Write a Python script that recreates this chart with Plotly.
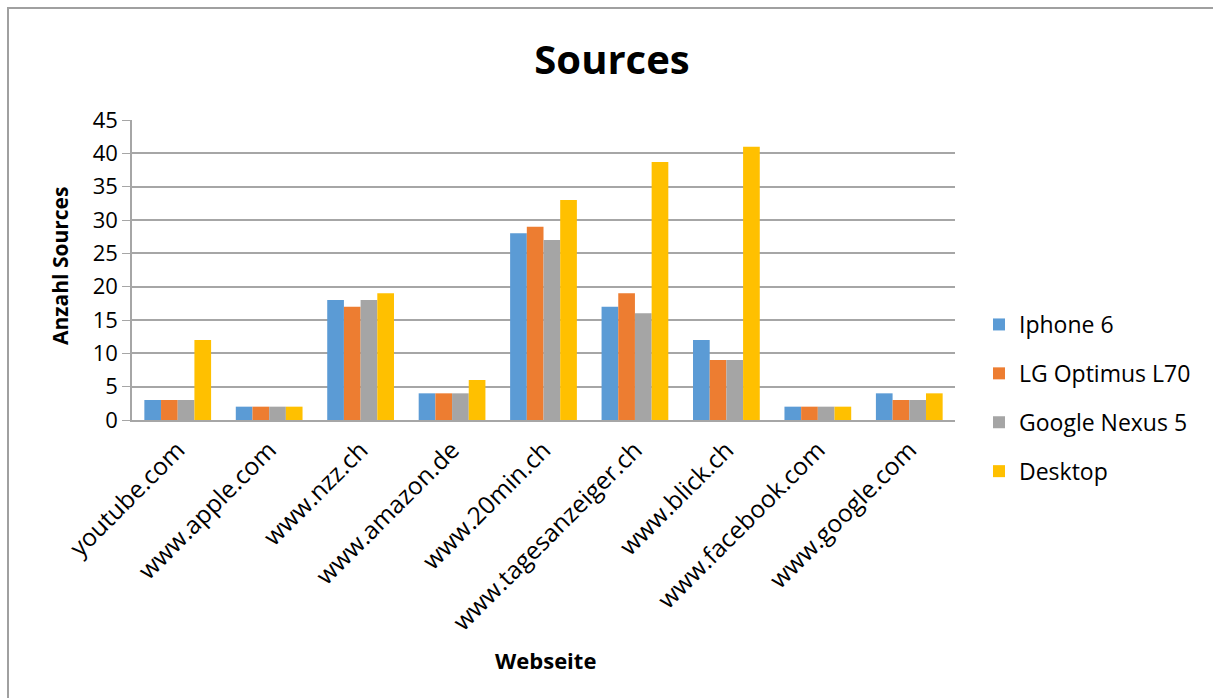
import plotly.graph_objects as go

categories = ["youtube.com", "www.apple.com", "www.nzz.ch", "www.amazon.de", "www.20min.ch",
              "www.tagesanzeiger.ch", "www.blick.ch", "www.facebook.com", "www.google.com"]
iphone6 = [3, 2, 18, 4, 28, 17, 12, 2, 4]
lg_optimus = [3, 2, 17, 4, 29, 19, 9, 2, 3]
nexus5 = [3, 2, 18, 4, 27, 16, 9, 2, 3]
desktop = [12, 2, 19, 6, 33, 38.7, 41, 2, 4]
series_names = ["Iphone 6", "LG Optimus L70", "Google Nexus 5", "Desktop"]
colors = ["#5B9BD5", "#ED7D31", "#A5A5A5", "#FFC000"]

FONT = "Open Sans, Lato, sans-serif"

fig = go.Figure()
for i, (name, vals) in enumerate(zip(series_names, [iphone6, lg_optimus, nexus5, desktop])):
    fig.add_trace(go.Bar(x=categories, y=vals, name=name, marker_color=colors[i],
                         marker_line_width=0, legendgroup=name))

L, R, T, B = 132, 258, 120, 278
W, H = 1213, 698
pw, ph = W - L - R, H - T - B

def px_x(p):
    return (p - L) / pw

def px_y(p):
    return (H - B - p) / ph

fig.update_layout(
    width=W, height=H,
    margin=dict(l=L, r=R, t=T, b=B),
    paper_bgcolor="white", plot_bgcolor="white",
    font=dict(family=FONT, size=20, color="#000000"),
    barmode="group", bargap=0.27, bargroupgap=0,
    title=dict(text="<b>Sources</b>", xref="container", x=612 / W, xanchor="center",
               yref="container", y=1 - 60 / H, yanchor="middle",
               font=dict(size=40, family=FONT, color="#000000")),
    xaxis=dict(tickangle=-45, showline=True, linecolor="#A6A6A6", linewidth=2,
               ticks="outside", ticklen=4, tickcolor="rgba(0,0,0,0)", tickfont=dict(size=24.5)),
    yaxis=dict(range=[0, 45], dtick=5, showgrid=True, gridcolor="#A6A6A6", gridwidth=1.5,
               showline=True, linecolor="#A6A6A6", linewidth=1.5, ticks="outside",
               ticklen=8, tickcolor="#A6A6A6", zeroline=False, tickfont=dict(size=22)),
    legend=dict(x=px_x(979), xanchor="left", y=px_y(398), yanchor="middle",
                font=dict(size=23), traceorder="grouped", tracegroupgap=16,
                itemwidth=30),
    annotations=[
        dict(text="<b>Webseite</b>", xref="paper", yref="paper", x=px_x(545), y=px_y(660),
             xanchor="center", yanchor="middle", showarrow=False, font=dict(size=22)),
        dict(text="<b>Anzahl Sources</b>", xref="paper", yref="paper", x=px_x(60), y=px_y(266),
             xanchor="center", yanchor="middle", showarrow=False, textangle=-90,
             font=dict(size=21)),
    ],
    shapes=[dict(type="rect", xref="paper", yref="paper",
                 x0=px_x(8), x1=px_x(1230), y0=px_y(8), y1=px_y(720),
                 line=dict(color="#A0A0A0", width=2), fillcolor="rgba(0,0,0,0)", layer="below")],
)

fig.write_html("out.html")
